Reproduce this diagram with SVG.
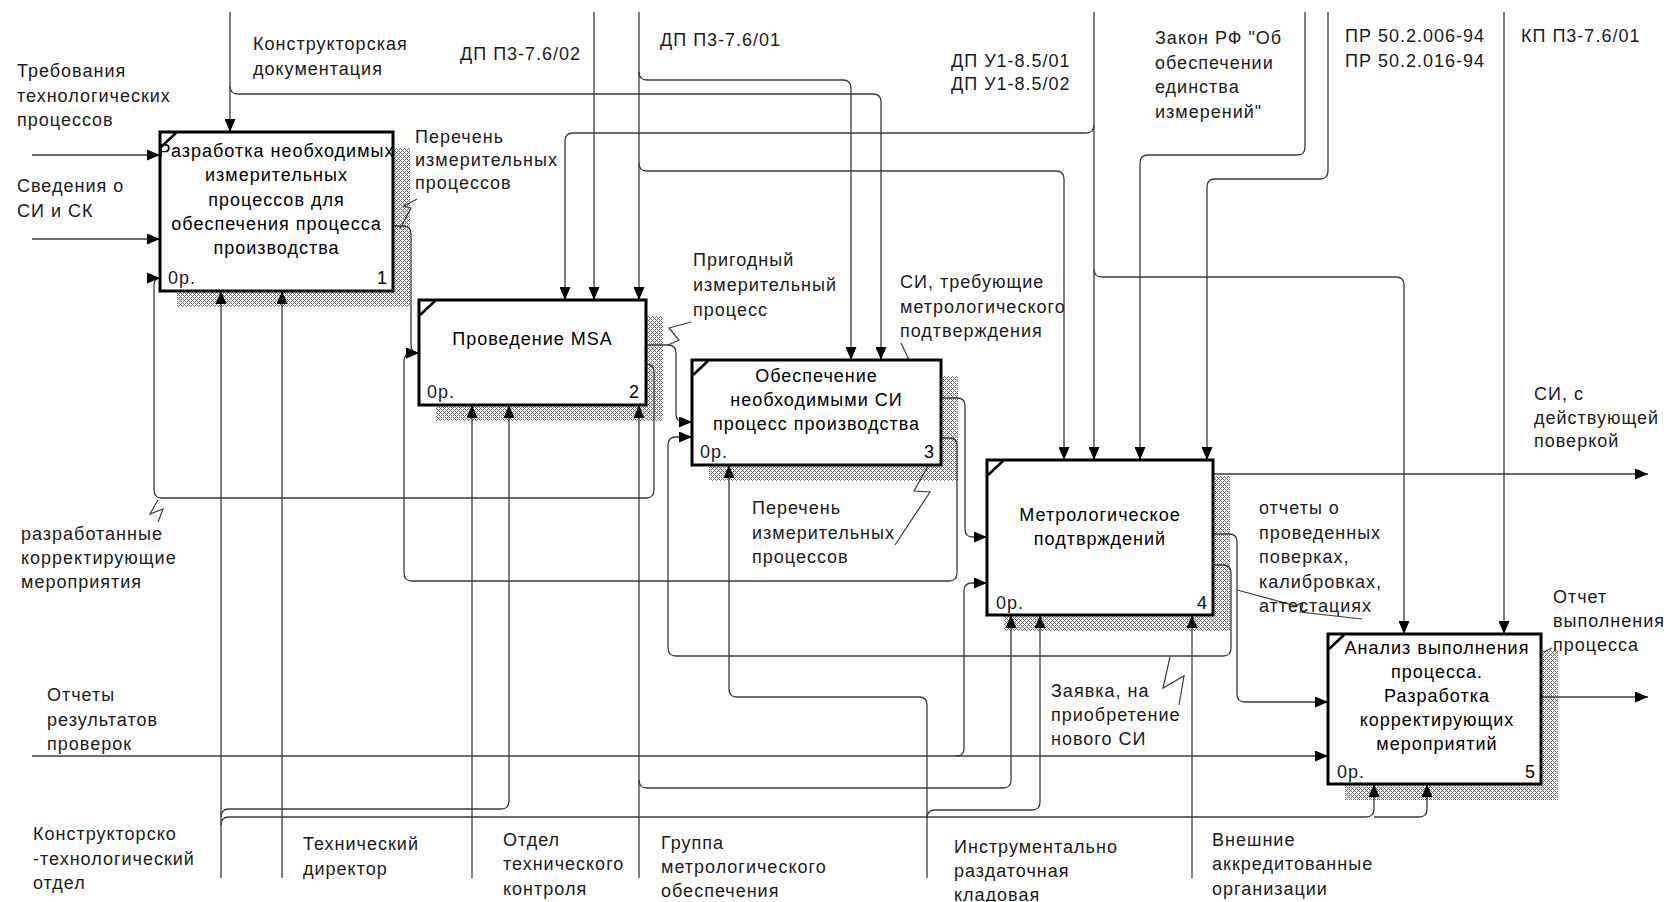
<svg xmlns="http://www.w3.org/2000/svg" width="1677" height="902" viewBox="0 0 1677 902">
<style>
.c{fill:none;stroke:#3a3a3a;stroke-width:1.3}
.a{marker-end:url(#ah)}
.q{fill:none;stroke:#3a3a3a;stroke-width:1.2}
.box{fill:#fff;stroke:#000;stroke-width:3}
.sh{fill:url(#hatch)}
.tick{stroke:#000;stroke-width:2.5}
text{font-family:"Liberation Sans",Arial,"Noto Sans CJK SC",sans-serif;font-size:18px;letter-spacing:1px;fill:#1a1a1a}
.t{text-anchor:middle;fill:#000}
.n{text-anchor:end;fill:#000}
</style>
<defs>
<pattern id="hatch" width="4" height="4" patternUnits="userSpaceOnUse">
<rect width="4" height="4" fill="#fff"/>
<rect x="0" y="0" width="1" height="1" fill="#6a6a6a"/>
<rect x="1" y="1" width="1" height="1" fill="#6a6a6a"/>
<rect x="2" y="2" width="1" height="1" fill="#6a6a6a"/>
<rect x="3" y="3" width="1" height="1" fill="#6a6a6a"/>
<rect x="1" y="3" width="1" height="1" fill="#6a6a6a"/>
<rect x="3" y="1" width="1" height="1" fill="#6a6a6a"/>
</pattern>
<marker id="ah" markerUnits="userSpaceOnUse" markerWidth="13" markerHeight="11" refX="13" refY="5.5" orient="auto">
<path d="M0,0 L13,5.5 L0,11 Z" fill="#000"/>
</marker>
</defs>
<rect width="1677" height="902" fill="#fff"/>

<g id="shadows">
<rect class="sh" x="177" y="148" width="233" height="159"/>
<rect class="sh" x="436" y="316" width="227" height="105"/>
<rect class="sh" x="709" y="376" width="249" height="105"/>
<rect class="sh" x="1004" y="476" width="226" height="155"/>
<rect class="sh" x="1345" y="650" width="213" height="150"/>
</g>

<g id="connectors">
<path class="c a" d="M230,12 V132"/>
<path class="c a" d="M230,86 Q230,94 238,94 H873 Q881,94 881,102 V360"/>
<path class="c a" d="M594,12 V300"/>
<path class="c a" d="M639,12 V300"/>
<path class="c a" d="M639,72 Q639,80 647,80 H843 Q851,80 851,88 V360"/>
<path class="c a" d="M639,163 Q639,171 647,171 H1056 Q1064,171 1064,179 V460"/>
<path class="c a" d="M1094,12 V460"/>
<path class="c a" d="M1094,125 Q1094,133 1086,133 H573 Q565,133 565,141 V300"/>
<path class="c a" d="M1094,269 Q1094,277 1102,277 H1396 Q1404,277 1404,285 V634"/>
<path class="c a" d="M1305,12 V147 Q1305,155 1297,155 H1148 Q1140,155 1140,163 V460"/>
<path class="c a" d="M1328,12 V171 Q1328,179 1320,179 H1215 Q1207,179 1207,187 V460"/>
<path class="c a" d="M1504,12 V634"/>
<path class="c a" d="M32,155 H160"/>
<path class="c a" d="M32,239 H160"/>
<path class="c a" d="M393,226 H403 Q411,226 411,234 V345 Q411,353 419,353"/>
<path class="c a" d="M646,345 H668 Q676,345 676,353 V414 Q676,422 684,422 H692"/>
<path class="c a" d="M646,364 Q654,364 654,372 V490 Q654,498 646,498 H162 Q154,498 154,490 V286 Q154,278 160,278"/>
<path class="c a" d="M941,398 H957 Q965,398 965,406 V529 Q965,537 973,537 H987"/>
<path class="c a" d="M941,438 H949 Q957,438 957,446 V573 Q957,581 949,581 H412 Q404,581 404,573 V361 Q404,353 412,353 H419"/>
<path class="c a" d="M1213,474 H1648"/>
<path class="c a" d="M1213,534 H1229 Q1237,534 1237,542 V694 Q1237,702 1245,702 H1328"/>
<path class="c a" d="M1213,565 H1223 Q1231,565 1231,573 V648 Q1231,656 1223,656 H676 Q668,656 668,648 V445 Q668,437 676,437 H692"/>
<path class="c a" d="M1541,697 H1648"/>
<path class="c a" d="M32,756 H1328"/>
<path class="c a" d="M956,756 Q964,756 964,748 V591 Q964,583 972,583 H987"/>
<path class="c a" d="M221,878 V291"/>
<path class="c a" d="M221,817 Q221,809 229,809 H501 Q509,809 509,801 V405"/>
<path class="c a" d="M221,825 Q221,817 229,817 H1366 Q1374,817 1374,809 V784"/>
<path class="c a" d="M1374,817 H1419 Q1427,817 1427,809 V784"/>
<path class="c a" d="M282,878 V291"/>
<path class="c a" d="M472,878 V405"/>
<path class="c a" d="M639,878 V405"/>
<path class="c a" d="M639,780 Q639,788 647,788 H1003 Q1011,788 1011,780 V615"/>
<path class="c a" d="M927,878 V705 Q927,697 919,697 H737 Q729,697 729,689 V465"/>
<path class="c a" d="M927,818 Q927,810 935,810 H1032 Q1040,810 1040,802 V615"/>
<path class="c a" d="M1192,878 V615"/>
<path class="q" d="M417,199 L404,206 L411,208 L400,229"/>
<path class="q" d="M158,500 L150,514 L163,509 L158,522"/>
<path class="q" d="M691,322 L669,328 L679,340 L668,345"/>
<path class="q" d="M901,343 L919,381 L926,368 L940,388"/>
<path class="q" d="M936,452 L914,491 L930,492 L895,545"/>
<path class="q" d="M1237,590 L1296,606 Q1307,598 1300,612 L1362,619"/>
<path class="q" d="M1170,657 L1163,688 L1184,676 L1179,705"/>
<path class="q" d="M1544,652 L1552,648"/>
</g>

<g id="node1">
<rect class="box" x="160" y="132" width="233" height="159"/>
<line class="tick" x1="161" y1="147" x2="176" y2="133"/>
<text class="t" x="276.5" y="157">Разработка необходимых</text>
<text class="t" x="276.5" y="181">измерительных</text>
<text class="t" x="276.5" y="205.5">процессов для</text>
<text class="t" x="276.5" y="230">обеспечения процесса</text>
<text class="t" x="276.5" y="254">производства</text>
<text x="168" y="284">0р.</text>
<text class="n" x="388" y="284">1</text>
</g>

<g id="node2">
<rect class="box" x="419" y="300" width="227" height="105"/>
<line class="tick" x1="420" y1="315" x2="435" y2="301"/>
<text class="t" x="532.5" y="345">Проведение MSA</text>
<text x="427" y="398">0р.</text>
<text class="n" x="640" y="398">2</text>
</g>

<g id="node3">
<rect class="box" x="692" y="360" width="249" height="105"/>
<line class="tick" x1="693" y1="375" x2="708" y2="361"/>
<text class="t" x="816.5" y="382">Обеспечение</text>
<text class="t" x="816.5" y="406">необходимыми СИ</text>
<text class="t" x="816.5" y="430">процесс производства</text>
<text x="700" y="458">0р.</text>
<text class="n" x="935" y="458">3</text>
</g>

<g id="node4">
<rect class="box" x="987" y="460" width="226" height="155"/>
<line class="tick" x1="988" y1="475" x2="1003" y2="461"/>
<text class="t" x="1100" y="521">Метрологическое</text>
<text class="t" x="1100" y="545">подтврждений</text>
<text x="996" y="609">0р.</text>
<text class="n" x="1208" y="609">4</text>
</g>

<g id="node5">
<rect class="box" x="1328" y="634" width="213" height="150"/>
<line class="tick" x1="1329" y1="649" x2="1344" y2="635"/>
<text class="t" x="1437" y="654">Анализ выполнения</text>
<text class="t" x="1437" y="678">процесса.</text>
<text class="t" x="1437" y="702">Разработка</text>
<text class="t" x="1437" y="726">корректирующих</text>
<text class="t" x="1437" y="750">мероприятий</text>
<text x="1337" y="778">0р.</text>
<text class="n" x="1536" y="778">5</text>
</g>

<g id="labels">
<text x="253" y="50">Конструкторская</text>
<text x="253" y="74.5">документация</text>
<text x="460" y="60">ДП П3-7.6/02</text>
<text x="660" y="46">ДП П3-7.6/01</text>
<text x="951" y="67">ДП У1-8.5/01</text>
<text x="951" y="90">ДП У1-8.5/02</text>
<text x="1155" y="44">Закон РФ "Об</text>
<text x="1155" y="68.5">обеспечении</text>
<text x="1155" y="93">единства</text>
<text x="1155" y="117.5">измерений"</text>
<text x="1345" y="42">ПР 50.2.006-94</text>
<text x="1345" y="66.5">ПР 50.2.016-94</text>
<text x="1521" y="42">КП П3-7.6/01</text>
<text x="17" y="77">Требования</text>
<text x="17" y="101.5">технологических</text>
<text x="17" y="126">процессов</text>
<text x="17" y="192">Сведения о</text>
<text x="17" y="216.5">СИ и СК</text>
<text x="415" y="143">Перечень</text>
<text x="415" y="166">измерительных</text>
<text x="415" y="189">процессов</text>
<text x="693" y="266">Пригодный</text>
<text x="693" y="291">измерительный</text>
<text x="693" y="316">процесс</text>
<text x="900" y="288">СИ, требующие</text>
<text x="900" y="312.5">метрологического</text>
<text x="900" y="337">подтверждения</text>
<text x="752" y="514">Перечень</text>
<text x="752" y="538.5">измерительных</text>
<text x="752" y="563">процессов</text>
<text x="1534" y="400">СИ, с</text>
<text x="1534" y="424">действующей</text>
<text x="1534" y="447">поверкой</text>
<text x="1259" y="514">отчеты о</text>
<text x="1259" y="538.5">проведенных</text>
<text x="1259" y="563">поверках,</text>
<text x="1259" y="587.5">калибровках,</text>
<text x="1259" y="612">аттестациях</text>
<text x="1553" y="603">Отчет</text>
<text x="1553" y="627">выполнения</text>
<text x="1553" y="651">процесса</text>
<text x="1051" y="697">Заявка, на</text>
<text x="1051" y="721">приобретение</text>
<text x="1051" y="745">нового СИ</text>
<text x="21" y="540">разработанные</text>
<text x="21" y="564">корректирующие</text>
<text x="21" y="588">мероприятия</text>
<text x="47" y="701">Отчеты</text>
<text x="47" y="725.5">результатов</text>
<text x="47" y="750">проверок</text>
<text x="33" y="840">Конструкторско</text>
<text x="33" y="864.5">-технологический</text>
<text x="33" y="889">отдел</text>
<text x="303" y="850">Технический</text>
<text x="303" y="874.5">директор</text>
<text x="503" y="846">Отдел</text>
<text x="503" y="870">технического</text>
<text x="503" y="894.5">контроля</text>
<text x="661" y="849">Группа</text>
<text x="661" y="873">метрологического</text>
<text x="661" y="897">обеспечения</text>
<text x="954" y="853">Инструментально</text>
<text x="954" y="877">раздаточная</text>
<text x="954" y="901">кладовая</text>
<text x="1212" y="846">Внешние</text>
<text x="1212" y="870">аккредитованные</text>
<text x="1212" y="894.5">организации</text>
</g>
</svg>
